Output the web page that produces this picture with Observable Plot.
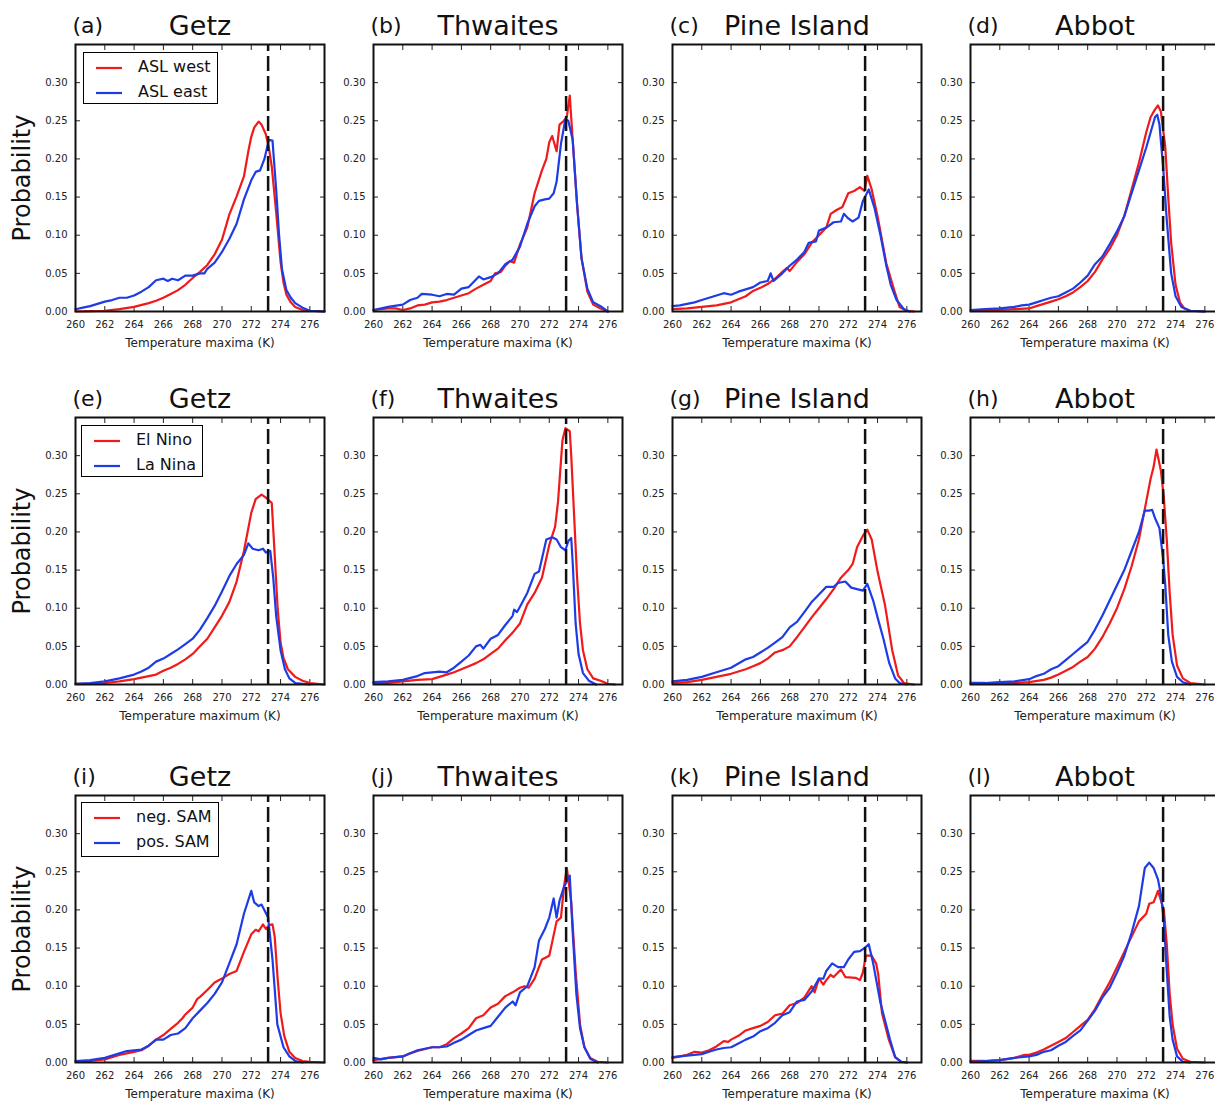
<!DOCTYPE html>
<html><head><meta charset="utf-8">
<script src="https://cdn.jsdelivr.net/npm/d3@7"></script>
<script src="https://cdn.jsdelivr.net/npm/@observablehq/plot@0.6"></script>
<style>
html,body{margin:0;padding:0;background:#fff;overflow:hidden;}
#chart{position:relative;width:1215px;height:1103px;overflow:hidden;font-family:"DejaVu Sans",sans-serif;}
.panel{position:absolute;}
.panel svg{max-width:none !important;}
.legend{position:absolute;border:1.5px solid #000;background:#fff;box-sizing:border-box;padding-right:8px;}
.legend .row{position:absolute;left:0;white-space:nowrap;font-size:16px;line-height:16px;color:#111;}
.legend svg{position:absolute;left:11px;top:-2px;}
.legend span{position:absolute;left:54px;top:-9px;}
</style></head><body><div id="chart"></div><script>
// ---- data (temperature K, probability) ----
const getzAslWest = [[260,0],[261,0.0005],[262,0.001],[263,0.003],[264,0.006],[265,0.011],[265.5,0.014],[266,0.018],[266.5,0.023],[267,0.028],[267.5,0.035],[268,0.044],[268.5,0.052],[269,0.061],[269.5,0.075],[270,0.094],[270.5,0.127],[271,0.151],[271.5,0.177],[271.8,0.21],[272,0.229],[272.2,0.241],[272.5,0.249],[272.7,0.245],[273,0.232],[273.2,0.215],[273.4,0.19],[273.7,0.13],[274,0.065],[274.2,0.038],[274.4,0.022],[274.7,0.012],[275,0.006],[275.5,0.002],[276,0.001],[277,0]];
const getzAslEast = [[260,0.003],[260.5,0.005],[261,0.007],[261.5,0.01],[262,0.013],[262.5,0.015],[263,0.018],[263.5,0.018],[264,0.021],[264.5,0.026],[265,0.032],[265.5,0.041],[266,0.043],[266.3,0.040],[266.6,0.043],[267,0.041],[267.5,0.047],[268,0.047],[268.5,0.050],[268.8,0.050],[269,0.056],[269.5,0.064],[270,0.078],[270.5,0.095],[271,0.115],[271.5,0.147],[272,0.172],[272.3,0.183],[272.6,0.185],[272.9,0.20],[273.2,0.225],[273.45,0.224],[273.7,0.16],[273.9,0.10],[274.1,0.055],[274.4,0.028],[274.7,0.018],[275,0.011],[275.5,0.005],[276,0.001],[277,0]];
const thwaitesAslWest = [[260,0.002],[261,0.004],[261.5,0.004],[262,0.002],[262.5,0.004],[263,0.008],[263.5,0.009],[264,0.012],[264.5,0.013],[265,0.015],[265.5,0.018],[266,0.021],[266.5,0.024],[267,0.030],[267.5,0.035],[268,0.040],[268.3,0.050],[268.7,0.052],[269,0.060],[269.3,0.066],[269.6,0.064],[270,0.088],[270.5,0.11],[271,0.155],[271.5,0.185],[271.8,0.20],[272,0.222],[272.2,0.230],[272.5,0.21],[272.7,0.245],[273,0.25],[273.2,0.255],[273.4,0.283],[273.6,0.225],[273.9,0.14],[274.2,0.07],[274.6,0.026],[275,0.009],[275.5,0.004],[276,0]];
const thwaitesAslEast = [[260,0.002],[261,0.006],[262,0.009],[262.5,0.015],[263,0.018],[263.3,0.023],[264,0.022],[264.5,0.020],[265,0.023],[265.5,0.022],[266,0.030],[266.5,0.032],[267,0.042],[267.2,0.046],[267.5,0.042],[268,0.045],[268.5,0.050],[269,0.062],[269.5,0.068],[270,0.085],[270.5,0.115],[271,0.138],[271.3,0.145],[271.7,0.147],[272,0.148],[272.3,0.155],[272.5,0.17],[272.8,0.22],[273.1,0.252],[273.3,0.25],[273.6,0.225],[273.9,0.14],[274.2,0.07],[274.6,0.03],[275,0.012],[275.5,0.007],[276,0]];
const pineAslWest = [[260,0.003],[261,0.004],[262,0.006],[263,0.008],[264,0.012],[265,0.020],[265.5,0.027],[266,0.031],[266.5,0.036],[267,0.043],[267.5,0.052],[267.8,0.057],[268,0.053],[268.5,0.065],[269,0.075],[269.5,0.090],[270,0.100],[270.5,0.110],[270.8,0.128],[271.2,0.133],[271.6,0.137],[272,0.155],[272.4,0.158],[272.8,0.163],[273.1,0.158],[273.3,0.178],[273.6,0.16],[274,0.125],[274.6,0.063],[275.2,0.024],[275.5,0.006],[276,0.001],[276.5,0]];
const pineAslEast = [[260,0.007],[260.5,0.008],[261,0.010],[261.5,0.012],[262,0.015],[262.5,0.018],[263,0.021],[263.5,0.024],[264,0.022],[264.5,0.026],[265,0.029],[265.5,0.032],[266,0.038],[266.5,0.040],[266.7,0.050],[266.9,0.040],[267.5,0.050],[268,0.060],[268.5,0.068],[269,0.078],[269.3,0.090],[269.8,0.092],[270,0.106],[270.5,0.110],[271,0.117],[271.5,0.118],[271.7,0.128],[272,0.122],[272.3,0.118],[272.7,0.123],[273,0.145],[273.4,0.160],[273.8,0.135],[274.2,0.10],[274.6,0.06],[274.9,0.035],[275.3,0.015],[275.8,0.003],[276.2,0]];
const abbotAslWest = [[260,0.001],[262,0.002],[263,0.003],[264,0.004],[264.5,0.007],[265,0.010],[265.5,0.013],[266,0.016],[266.5,0.020],[267,0.025],[267.5,0.032],[268,0.040],[268.5,0.052],[269,0.068],[269.5,0.082],[270,0.100],[270.5,0.125],[271,0.160],[271.5,0.195],[272,0.235],[272.3,0.255],[272.6,0.265],[272.8,0.27],[273,0.262],[273.3,0.215],[273.5,0.15],[273.7,0.09],[274,0.035],[274.3,0.012],[274.6,0.004],[275,0.001],[276,0]];
const abbotAslEast = [[260,0.002],[261,0.003],[262,0.004],[263,0.006],[263.5,0.008],[264,0.009],[264.5,0.012],[265,0.015],[265.5,0.018],[266,0.020],[266.5,0.025],[267,0.030],[267.5,0.038],[268,0.047],[268.5,0.062],[269,0.072],[269.5,0.088],[270,0.105],[270.5,0.125],[271,0.155],[271.5,0.185],[272,0.215],[272.3,0.235],[272.6,0.255],[272.75,0.258],[272.9,0.245],[273.15,0.19],[273.4,0.12],[273.7,0.05],[274,0.02],[274.4,0.006],[275,0.001],[276,0]];

const getzElNino = [[260,0.001],[261,0.001],[262,0.002],[263,0.004],[264,0.007],[265,0.011],[265.5,0.013],[266,0.018],[266.5,0.022],[267,0.027],[267.5,0.033],[268,0.040],[268.5,0.050],[269,0.060],[269.5,0.075],[270,0.090],[270.5,0.108],[271,0.135],[271.5,0.175],[272,0.225],[272.3,0.243],[272.7,0.249],[273,0.245],[273.4,0.238],[273.6,0.17],[273.8,0.10],[274,0.055],[274.2,0.035],[274.5,0.02],[275,0.01],[275.5,0.005],[276,0.002],[277,0]];
const getzLaNina = [[260,0.001],[261,0.002],[262,0.004],[263,0.008],[264,0.013],[264.5,0.017],[265,0.022],[265.5,0.030],[266,0.034],[266.5,0.040],[267,0.046],[267.5,0.053],[268,0.060],[268.5,0.072],[269,0.087],[269.5,0.103],[270,0.122],[270.5,0.142],[271,0.158],[271.5,0.170],[271.8,0.185],[272.1,0.178],[272.5,0.176],[272.8,0.178],[273,0.173],[273.3,0.175],[273.5,0.14],[273.7,0.09],[274,0.045],[274.3,0.02],[274.6,0.008],[275,0.002],[276,0]];
const thwaitesElNino = [[260,0.002],[261,0.002],[262,0.004],[263,0.006],[264,0.007],[265,0.013],[265.5,0.016],[266,0.020],[266.5,0.024],[267,0.028],[267.5,0.033],[268,0.040],[268.5,0.047],[269,0.058],[269.5,0.068],[270,0.080],[270.5,0.105],[271,0.12],[271.5,0.14],[272,0.183],[272.4,0.207],[272.6,0.24],[272.9,0.32],[273.1,0.336],[273.4,0.332],[273.5,0.30],[273.7,0.22],[273.9,0.14],[274.1,0.08],[274.3,0.045],[274.6,0.02],[275,0.008],[275.5,0.005],[276,0.001],[276.5,0]];
const thwaitesLaNina = [[260,0.003],[261,0.004],[262,0.006],[263,0.011],[263.5,0.015],[264,0.016],[264.5,0.017],[265,0.016],[265.5,0.022],[266,0.030],[266.5,0.038],[267,0.050],[267.3,0.052],[267.5,0.047],[268,0.060],[268.5,0.065],[269,0.078],[269.5,0.090],[269.6,0.098],[269.8,0.095],[270,0.102],[270.5,0.12],[271,0.145],[271.3,0.148],[271.8,0.19],[272.2,0.193],[272.5,0.19],[272.8,0.18],[273.1,0.176],[273.3,0.188],[273.5,0.192],[273.6,0.16],[273.8,0.08],[274,0.04],[274.3,0.015],[274.7,0.005],[275.2,0]];
const pineElNino = [[260,0.002],[261,0.003],[262,0.006],[263,0.010],[264,0.014],[265,0.020],[265.5,0.024],[266,0.028],[266.5,0.034],[267,0.042],[267.5,0.045],[268,0.050],[268.5,0.062],[269,0.075],[269.5,0.088],[270,0.100],[270.5,0.112],[271,0.125],[271.5,0.140],[272,0.150],[272.3,0.158],[272.6,0.180],[273,0.195],[273.3,0.203],[273.6,0.19],[274,0.148],[274.5,0.105],[275,0.045],[275.4,0.012],[275.8,0.002],[276.5,0]];
const pineLaNina = [[260,0.004],[261,0.006],[262,0.010],[263,0.016],[264,0.022],[265,0.033],[265.5,0.036],[266,0.042],[266.5,0.048],[267,0.055],[267.5,0.062],[268,0.075],[268.5,0.082],[269,0.095],[269.5,0.108],[270,0.118],[270.5,0.128],[271,0.128],[271.3,0.133],[271.8,0.135],[272.2,0.127],[272.6,0.125],[273,0.123],[273.3,0.132],[273.7,0.11],[274,0.088],[274.4,0.06],[274.8,0.028],[275.2,0.008],[275.5,0.002],[276,0]];
const abbotElNino = [[260,0.001],[262,0.002],[263,0.002],[264,0.003],[265,0.006],[265.5,0.009],[266,0.013],[266.5,0.018],[267,0.023],[267.5,0.030],[268,0.036],[268.5,0.047],[269,0.062],[269.5,0.080],[270,0.100],[270.5,0.125],[271,0.155],[271.5,0.19],[272,0.24],[272.3,0.27],[272.5,0.285],[272.7,0.308],[273,0.28],[273.2,0.245],[273.4,0.19],[273.6,0.12],[273.8,0.065],[274.1,0.025],[274.5,0.008],[275,0.002],[276,0]];
const abbotLaNina = [[260,0.002],[261,0.002],[262,0.003],[263,0.004],[264,0.007],[264.5,0.011],[265,0.014],[265.5,0.020],[266,0.024],[266.5,0.032],[267,0.040],[267.5,0.048],[268,0.056],[268.5,0.072],[269,0.09],[269.5,0.11],[270,0.13],[270.5,0.15],[271,0.175],[271.5,0.20],[271.9,0.228],[272.2,0.228],[272.4,0.229],[272.6,0.218],[272.9,0.205],[273.15,0.165],[273.3,0.13],[273.5,0.065],[273.75,0.03],[274.1,0.01],[274.5,0.003],[275,0]];

const getzNegSam = [[260,0.001],[261,0.002],[262,0.004],[263,0.010],[264,0.014],[264.5,0.016],[265,0.022],[265.5,0.030],[266,0.036],[266.5,0.044],[267,0.052],[267.3,0.058],[267.5,0.063],[268,0.072],[268.3,0.083],[268.5,0.086],[269,0.095],[269.5,0.105],[270,0.110],[270.5,0.116],[271,0.120],[271.5,0.145],[272,0.168],[272.3,0.174],[272.5,0.172],[272.8,0.181],[273,0.175],[273.2,0.18],[273.45,0.181],[273.6,0.165],[273.8,0.11],[274,0.065],[274.25,0.035],[274.6,0.014],[275,0.006],[275.5,0.002],[276,0.001],[277,0]];
const getzPosSam = [[260,0.002],[261,0.003],[262,0.006],[263,0.012],[263.5,0.015],[264,0.016],[264.5,0.017],[265,0.022],[265.5,0.030],[266,0.030],[266.5,0.036],[267,0.038],[267.5,0.045],[268,0.058],[268.5,0.068],[269,0.078],[269.5,0.090],[270,0.105],[270.5,0.13],[271,0.155],[271.5,0.195],[272,0.225],[272.2,0.21],[272.5,0.205],[272.7,0.207],[273.15,0.19],[273.45,0.135],[273.78,0.05],[274.2,0.02],[274.6,0.008],[275,0.002],[275.5,0]];
const thwaitesNegSam = [[260,0.003],[261,0.006],[262,0.008],[262.5,0.012],[263,0.015],[264,0.020],[264.5,0.020],[265,0.024],[265.5,0.032],[266,0.038],[266.5,0.045],[267,0.058],[267.5,0.062],[268,0.072],[268.5,0.077],[269,0.087],[269.5,0.092],[270,0.098],[270.3,0.100],[270.6,0.098],[271,0.110],[271.5,0.135],[272,0.140],[272.5,0.185],[272.8,0.19],[273,0.23],[273.2,0.255],[273.5,0.21],[273.8,0.12],[274.1,0.05],[274.4,0.02],[274.8,0.006],[275.3,0.001],[276,0]];
const thwaitesPosSam = [[260,0.006],[260.5,0.004],[261,0.006],[262,0.008],[263,0.016],[263.5,0.018],[264,0.020],[264.5,0.020],[265,0.021],[265.5,0.026],[266,0.030],[266.5,0.036],[267,0.042],[267.5,0.045],[268,0.048],[268.5,0.060],[269,0.072],[269.5,0.080],[269.7,0.075],[270,0.092],[270.5,0.100],[271,0.125],[271.3,0.160],[271.7,0.175],[272,0.19],[272.3,0.215],[272.5,0.190],[272.7,0.212],[273,0.23],[273.4,0.245],[273.6,0.17],[273.85,0.09],[274.1,0.045],[274.4,0.02],[274.8,0.005],[275.3,0]];
const pineNegSam = [[260,0.006],[261,0.010],[261.5,0.014],[262,0.013],[262.5,0.016],[263,0.021],[263.5,0.028],[263.8,0.027],[264,0.030],[264.5,0.035],[265,0.042],[265.5,0.045],[266,0.048],[266.5,0.053],[267,0.062],[267.5,0.064],[268,0.075],[268.5,0.078],[269,0.085],[269.5,0.100],[269.7,0.092],[270,0.11],[270.3,0.102],[270.5,0.108],[270.8,0.115],[271,0.112],[271.5,0.122],[271.8,0.112],[272.5,0.111],[272.8,0.108],[273,0.118],[273.2,0.14],[273.6,0.14],[273.9,0.13],[274.05,0.115],[274.3,0.065],[274.75,0.031],[275.2,0.007],[275.6,0.001],[276,0]];
const pinePosSam = [[260,0.007],[261,0.009],[262,0.011],[262.5,0.014],[263,0.017],[263.5,0.019],[264,0.020],[264.5,0.025],[265,0.030],[265.5,0.034],[266,0.041],[266.5,0.045],[267,0.052],[267.5,0.062],[268,0.066],[268.5,0.080],[269,0.082],[269.5,0.093],[270,0.110],[270.3,0.110],[270.5,0.120],[270.9,0.130],[271.3,0.125],[271.7,0.125],[272,0.135],[272.4,0.145],[272.8,0.146],[273.1,0.150],[273.4,0.155],[273.7,0.13],[274.2,0.078],[274.85,0.03],[275.2,0.007],[275.6,0.001],[276,0]];
const abbotNegSam = [[260,0.002],[261,0.002],[262,0.003],[263,0.006],[263.7,0.010],[264,0.010],[264.5,0.013],[265,0.017],[265.5,0.022],[266,0.027],[266.5,0.032],[267,0.040],[267.5,0.048],[268,0.056],[268.5,0.070],[269,0.088],[269.5,0.105],[270,0.125],[270.5,0.145],[271,0.165],[271.5,0.185],[272,0.195],[272.2,0.208],[272.5,0.21],[272.8,0.225],[273.2,0.2],[273.4,0.155],[273.6,0.09],[273.8,0.05],[274.1,0.018],[274.5,0.005],[275,0.001],[276,0]];
const abbotPosSam = [[260,0.001],[261,0.002],[262,0.003],[263,0.006],[264,0.008],[264.5,0.010],[265,0.014],[265.5,0.016],[266,0.022],[266.5,0.027],[267,0.035],[267.5,0.042],[268,0.055],[268.5,0.068],[269,0.085],[269.5,0.098],[270,0.118],[270.5,0.14],[271,0.170],[271.5,0.205],[271.9,0.255],[272.2,0.262],[272.5,0.255],[272.8,0.24],[273,0.22],[273.2,0.185],[273.4,0.12],[273.6,0.06],[273.8,0.03],[274.1,0.008],[274.5,0.001],[275,0]];

const glaciers = ["Getz", "Thwaites", "Pine Island", "Abbot"];
const panelLetters = ["a","b","c","d","e","f","g","h","i","j","k","l"];
const xAxisLabels = ["Temperature maxima (K)", "Temperature maximum (K)", "Temperature maxima (K)"];
const legendLabels = [["ASL west","ASL east"],["El Nino","La Nina"],["neg. SAM","pos. SAM"]];
const redSeries = [
  [getzAslWest, thwaitesAslWest, pineAslWest, abbotAslWest],
  [getzElNino, thwaitesElNino, pineElNino, abbotElNino],
  [getzNegSam, thwaitesNegSam, pineNegSam, abbotNegSam]
];
const blueSeries = [
  [getzAslEast, thwaitesAslEast, pineAslEast, abbotAslEast],
  [getzLaNina, thwaitesLaNina, pineLaNina, abbotLaNina],
  [getzPosSam, thwaitesPosSam, pinePosSam, abbotPosSam]
];
const xTicks = [260,262,264,266,268,270,272,274,276];
const yTicks = [0,0.05,0.10,0.15,0.20,0.25,0.30];
const xDomain = [260, 277];
const yDomain = [0, 0.35];
const freezingPoint = 273.15;

// ---- layout / style ----
const RED = "#f01a1a", BLUE = "#1e3ce6";
const colLeft = [75, 373, 672, 970];
const rowTop = [44, 417, 795];
const frameW = 249, frameH = 267;
const legendOffset = [[8, 8, 52], [6, 8, 52], [6, 7, 55]];

const chart = document.getElementById("chart");

for (let r = 0; r < 3; r++) {
  for (let c = 0; c < 4; c++) {
    const mL = c === 0 ? 75 : 50, mR = 4, mT = 44, mB = 44;
    const W = mL + frameW + mR, H = mT + frameH + mB;
    const letter = panelLetters[r * 4 + c];
    const svg = Plot.plot({
      width: W,
      height: H,
      marginLeft: mL, marginRight: mR, marginTop: mT, marginBottom: mB,
      style: {background: "transparent", fontFamily: "DejaVu Sans", fontSize: "10px", color: "#222", overflow: "visible", maxWidth: "none"},
      x: {domain: xDomain},
      y: {domain: yDomain},
      marks: [
        Plot.axisX({anchor: "bottom", ticks: xTicks, tickSize: -5, tickPadding: 14, tickFormat: d => String(d), label: null}),
        Plot.axisX({anchor: "top", ticks: xTicks, tickSize: -5, tickFormat: () => "", label: null}),
        Plot.axisY({anchor: "left", ticks: yTicks, tickSize: -5, tickPadding: 13, tickFormat: d3.format(".2f"), label: null}),
        Plot.axisY({anchor: "right", ticks: yTicks, tickSize: -5, tickFormat: () => "", label: null}),
        Plot.line(redSeries[r][c], {x: d => d[0], y: d => d[1], stroke: RED, strokeWidth: 2.2, curve: "linear"}),
        Plot.line(blueSeries[r][c], {x: d => d[0], y: d => d[1], stroke: BLUE, strokeWidth: 2.2, curve: "linear"}),
        Plot.ruleX([freezingPoint], {x: d => d, y1: yDomain[0], y2: yDomain[1], stroke: "#111", strokeWidth: 2.5, strokeDasharray: "15,5"}),
        Plot.frame({stroke: "#111", strokeWidth: 2}),
        Plot.text([glaciers[c]], {text: d => d, frameAnchor: "top", dy: -10, lineAnchor: "bottom", fontSize: 27, fill: "#111"}),
        Plot.text([`(${letter})`], {text: d => d, frameAnchor: "top-left", dx: -3, dy: -12, textAnchor: "start", lineAnchor: "bottom", fontSize: 22, fill: "#111"}),
        Plot.text([xAxisLabels[r]], {text: d => d, frameAnchor: "bottom", dy: 32, lineAnchor: "middle", fontSize: 12, fill: "#222"}),
        c === 0 ? Plot.text(["Probability"], {text: d => d, frameAnchor: "left", dx: -53, rotate: -90, textAnchor: "middle", lineAnchor: "middle", fontSize: 24, fill: "#111"}) : null
      ]
    });
    const holder = document.createElement("div");
    holder.className = "panel";
    holder.style.left = (colLeft[c] - mL) + "px";
    holder.style.top = (rowTop[r] - mT) + "px";
    holder.style.width = W + "px";
    holder.style.height = H + "px";
    holder.appendChild(svg);
    chart.appendChild(holder);

    if (c === 0) {
      const [ox, oy, h] = legendOffset[r];
      const box = document.createElement("div");
      box.className = "legend";
      box.style.left = (colLeft[c] + ox) + "px";
      box.style.top = (rowTop[r] + oy) + "px";
      box.style.height = h + "px";
      const meas = document.createElement("canvas").getContext("2d");
      meas.font = "16px 'DejaVu Sans'";
      const tw = Math.max(...legendLabels[r].map(t => meas.measureText(t).width));
      box.style.width = (54 + tw + 8) + "px";
      [[legendLabels[r][0], RED, 14.5], [legendLabels[r][1], BLUE, 40]].forEach(([lab, col, yy]) => {
        const row = document.createElement("div");
        row.className = "row";
        row.style.top = yy + "px";
        row.innerHTML = `<svg width="28" height="4"><line x1="1" y1="2" x2="27" y2="2" stroke="${col}" stroke-width="2.2"/></svg><span>${lab}</span>`;
        box.appendChild(row);
      });
      chart.appendChild(box);
    }
  }
}
</script></body></html>
